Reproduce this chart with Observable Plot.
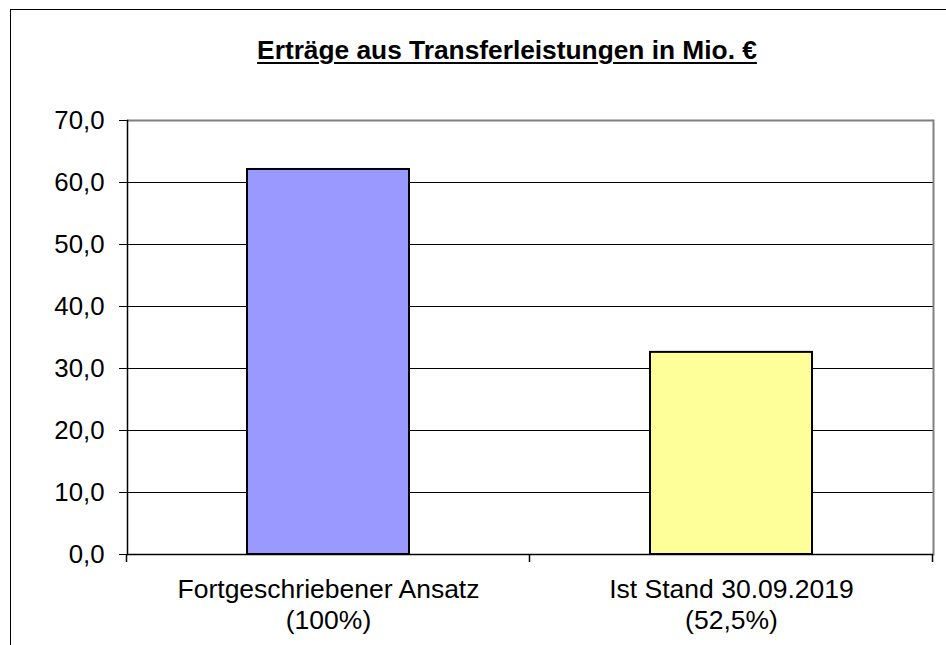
<!DOCTYPE html>
<html>
<head>
<meta charset="utf-8">
<script src="https://cdn.jsdelivr.net/npm/d3@7"></script>
<script src="https://cdn.jsdelivr.net/npm/@observablehq/plot@0.6"></script>
<style>
  html, body { margin: 0; padding: 0; background: #fff; overflow: hidden; }
  #wrap { position: relative; width: 946px; height: 645px; overflow: hidden; font-family: "Liberation Sans", Arial, sans-serif; }
  #frame { position: absolute; left: 10px; top: 9px; width: 2000px; height: 2000px; border-left: 1px solid #000; border-top: 1px solid #000; }
  #title { position: absolute; left: 507px; top: 35px; transform: translateX(-50%); white-space: nowrap;
           font-weight: bold; font-size: 26.3px; line-height: 30px; text-decoration: underline; text-decoration-thickness: 2px; text-underline-offset: 3px; color: #000; }
  #chart { position: absolute; left: 0; top: 80px; }
</style>
</head>
<body>
<div id="wrap">
  <div id="frame"></div>
  <div id="title"></div>
  <div id="chart"></div>
</div>
<script>
const titleText = "Erträge aus Transferleistungen in Mio. €";
const categories = ["Fortgeschriebener Ansatz\n(100%)", "Ist Stand 30.09.2019\n(52,5%)"];
const values = [62.1, 32.6];
const barColors = ["#9999ff", "#ffff99"];
const yTicks = [0, 10, 20, 30, 40, 50, 60, 70];
const yMax = 70;

document.getElementById("title").textContent = titleText;

const data = categories.map((c, i) => ({cat: c, value: values[i], color: barColors[i]}));
const fmt = d => d.toFixed(1).replace(".", ",");

const plot = Plot.plot({
  width: 946,
  height: 565,
  marginLeft: 127,
  marginRight: 13,
  marginTop: 40,
  marginBottom: 91,
  style: {fontFamily: "'Liberation Sans', Arial, sans-serif", color: "#000", background: "transparent"},
  x: {domain: categories, paddingInner: 0.598, paddingOuter: 0.299, label: null},
  y: {domain: [0, yMax], label: null},
  marks: [
    Plot.ruleY(yTicks.filter(d => d > 0 && d < yMax), {stroke: "#000", strokeWidth: 1}),
    Plot.ruleY([yMax], {stroke: "#808080", strokeWidth: 2}),
    Plot.frame({anchor: "right", stroke: "#808080", strokeWidth: 2}),
    Plot.barY(data, {x: "cat", y: "value", fill: "color", stroke: "#000", strokeWidth: 2}),
    Plot.ruleY([0], {stroke: "#000", strokeWidth: 1.5}),
    Plot.frame({anchor: "left", stroke: "#000", strokeWidth: 1.5}),
    Plot.axisY({ticks: yTicks, tickFormat: fmt, tickSize: 8, tickPadding: 15, fontSize: 25.8, label: null}),
    Plot.axisX({tickSize: 0, tickPadding: 22, fontSize: 26.5, lineHeight: 1.16, label: null})
  ]
});

// category boundary ticks below the x axis, derived from the band scale
const xs = plot.scale("x");
const ys = plot.scale("y");
const step = xs.step;
const y0 = ys.apply(0);
const bounds = [];
categories.forEach((c, i) => {
  const start = xs.apply(c) - (step - xs.bandwidth) / 2;
  bounds.push(start);
  if (i === categories.length - 1) bounds.push(start + step);
});
const g = d3.select(plot).append("g").attr("stroke", "#000").attr("stroke-width", 1.5);
bounds.forEach(bx => {
  g.append("line").attr("x1", bx).attr("x2", bx).attr("y1", y0).attr("y2", y0 + 8);
});

document.getElementById("chart").appendChild(plot);
</script>
</body>
</html>
